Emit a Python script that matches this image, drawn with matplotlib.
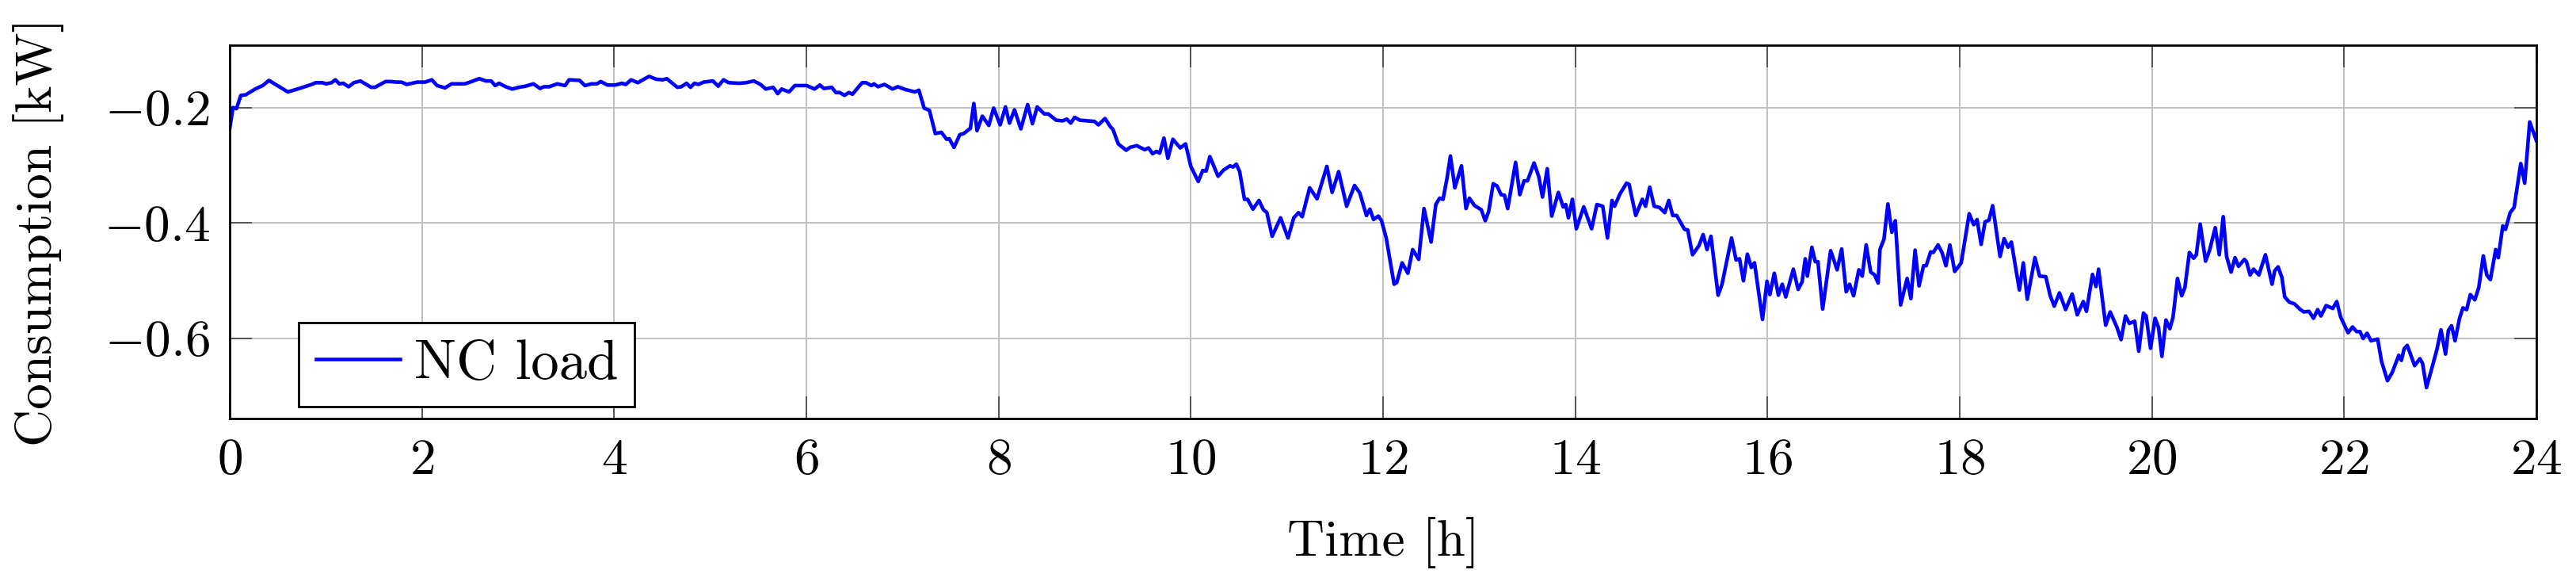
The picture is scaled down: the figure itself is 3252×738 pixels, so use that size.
import matplotlib.pyplot as plt

# Time [h] and NC load [kW]
hours = [
    0.0, 0.033, 0.069, 0.115, 0.165, 0.275, 0.343, 0.407, 0.604, 0.742,
    0.852, 0.893, 0.962, 1.003, 1.058, 1.099, 1.140, 1.181, 1.236, 1.291,
    1.360, 1.470, 1.511, 1.621, 1.676, 1.731, 1.786, 1.841, 1.951, 2.033,
    2.102, 2.157, 2.239, 2.308, 2.445, 2.500, 2.596, 2.665, 2.720, 2.761,
    2.802, 2.871, 2.940, 3.008, 3.077, 3.159, 3.228, 3.269, 3.324, 3.407,
    3.489, 3.530, 3.640, 3.695, 3.764, 3.819, 3.860, 3.929,
    4.011, 4.080, 4.121, 4.176, 4.245, 4.363, 4.437, 4.505, 4.547, 4.657,
    4.698, 4.753, 4.794, 4.835, 4.876, 4.931, 5.027, 5.082, 5.137, 5.192,
    5.302, 5.371, 5.453, 5.522, 5.577, 5.654, 5.701, 5.742, 5.819, 5.879,
    6.003, 6.085, 6.140, 6.181, 6.264, 6.305, 6.346, 6.396, 6.442, 6.478,
    6.580, 6.621, 6.676, 6.703, 6.745, 6.813, 6.896, 6.951, 7.033, 7.129,
    7.170, 7.225, 7.280, 7.341, 7.404, 7.459, 7.486, 7.536, 7.596, 7.637,
    7.706, 7.742, 7.775, 7.830, 7.898, 7.948,
    8.016, 8.071, 8.113, 8.165, 8.231, 8.302, 8.352, 8.401, 8.475, 8.516,
    8.599, 8.668, 8.709, 8.750, 8.791, 8.846, 8.997, 9.038, 9.107, 9.162,
    9.190, 9.245, 9.327, 9.368, 9.437, 9.519, 9.560, 9.602, 9.643, 9.676,
    9.720, 9.761, 9.813, 9.890, 9.945,
    10.0, 10.077, 10.124, 10.159, 10.198, 10.283, 10.343, 10.407, 10.440, 10.473,
    10.508, 10.558, 10.591, 10.646, 10.709, 10.755, 10.791, 10.846, 10.934, 11.011,
    11.071, 11.121, 11.159, 11.236, 11.313, 11.415, 11.470, 11.538, 11.621, 11.703,
    11.758, 11.827, 11.863, 11.901, 11.951, 11.984,
    12.033, 12.115, 12.143, 12.198, 12.258, 12.308, 12.371, 12.426, 12.500, 12.549,
    12.588, 12.624, 12.665, 12.701, 12.747, 12.816, 12.863, 12.898, 12.953, 13.022,
    13.063, 13.099, 13.146, 13.187, 13.228, 13.264, 13.297, 13.379, 13.423, 13.467,
    13.503, 13.571, 13.621, 13.659, 13.709, 13.755, 13.824, 13.874, 13.901, 13.929,
    13.970, 14.011, 14.088, 14.170, 14.225, 14.286, 14.335, 14.382, 14.409, 14.464,
    14.533, 14.560, 14.629, 14.698, 14.731, 14.775, 14.821, 14.876, 14.931, 14.973,
    15.014, 15.055, 15.137, 15.170, 15.220, 15.288, 15.330, 15.371, 15.412, 15.486,
    15.527, 15.626, 15.673, 15.709, 15.750, 15.791, 15.832, 15.865, 15.948, 15.995,
    16.025, 16.071, 16.113, 16.154, 16.190, 16.269, 16.319, 16.360, 16.393, 16.415,
    16.462, 16.497, 16.525, 16.574, 16.657, 16.725, 16.772, 16.819, 16.854, 16.896,
    16.951, 16.986, 17.027, 17.074, 17.115, 17.151, 17.170, 17.212, 17.253, 17.294,
    17.330, 17.385, 17.453, 17.492, 17.536, 17.577, 17.624, 17.651, 17.698, 17.725,
    17.775, 17.816, 17.857, 17.898, 17.948,
    18.016, 18.099, 18.146, 18.181, 18.223, 18.264, 18.305, 18.343, 18.420, 18.462,
    18.503, 18.538, 18.621, 18.662, 18.703, 18.783, 18.832, 18.896, 18.942, 18.984,
    19.038, 19.102, 19.170, 19.223, 19.286, 19.319, 19.382, 19.418, 19.445, 19.519,
    19.566, 19.637, 19.679, 19.725, 19.766, 19.821, 19.863, 19.912, 19.940, 19.986,
    20.033, 20.069, 20.104, 20.146, 20.187, 20.220, 20.266, 20.310, 20.343, 20.390,
    20.434, 20.462, 20.503, 20.558, 20.599, 20.659, 20.701, 20.742, 20.777, 20.824,
    20.865, 20.901, 20.962, 20.984, 21.022, 21.058, 21.113, 21.181, 21.250, 21.277,
    21.313, 21.352, 21.382, 21.429, 21.484, 21.538, 21.580, 21.635, 21.681, 21.725,
    21.758, 21.813, 21.882, 21.923, 21.964,
    22.041, 22.088, 22.129, 22.165, 22.198, 22.239, 22.280, 22.349, 22.390, 22.451,
    22.500, 22.569, 22.596, 22.624, 22.657, 22.734, 22.788, 22.816, 22.857, 22.912,
    22.967, 23.008, 23.055, 23.085, 23.118, 23.154, 23.201, 23.236, 23.275, 23.313,
    23.360, 23.401, 23.448, 23.484, 23.522, 23.577, 23.604, 23.651, 23.679, 23.728,
    23.769, 23.838, 23.879, 23.931, 24.0,
]

nc_load = [
    -0.236, -0.200, -0.202, -0.179, -0.178, -0.167, -0.162, -0.153, -0.173, -0.166,
    -0.160, -0.157, -0.157, -0.159, -0.157, -0.152, -0.159, -0.158, -0.164, -0.157,
    -0.154, -0.165, -0.165, -0.155, -0.155, -0.156, -0.156, -0.160, -0.156, -0.156,
    -0.152, -0.162, -0.166, -0.159, -0.159, -0.156, -0.150, -0.154, -0.154, -0.162,
    -0.158, -0.164, -0.168, -0.165, -0.163, -0.159, -0.167, -0.164, -0.164, -0.159,
    -0.162, -0.152, -0.153, -0.162, -0.159, -0.159, -0.155, -0.161,
    -0.161, -0.158, -0.160, -0.152, -0.157, -0.146, -0.151, -0.152, -0.150, -0.165,
    -0.164, -0.158, -0.165, -0.158, -0.160, -0.156, -0.154, -0.163, -0.152, -0.157,
    -0.158, -0.157, -0.154, -0.160, -0.168, -0.165, -0.176, -0.168, -0.173, -0.162,
    -0.162, -0.168, -0.161, -0.167, -0.165, -0.174, -0.174, -0.179, -0.174, -0.177,
    -0.157, -0.157, -0.162, -0.159, -0.164, -0.160, -0.168, -0.164, -0.169, -0.173,
    -0.170, -0.201, -0.205, -0.245, -0.243, -0.255, -0.254, -0.269, -0.247, -0.245,
    -0.236, -0.193, -0.240, -0.215, -0.231, -0.201,
    -0.230, -0.199, -0.227, -0.204, -0.237, -0.195, -0.228, -0.199, -0.211, -0.211,
    -0.222, -0.223, -0.220, -0.227, -0.217, -0.222, -0.224, -0.230, -0.219, -0.233,
    -0.238, -0.263, -0.274, -0.269, -0.266, -0.273, -0.270, -0.280, -0.276, -0.279,
    -0.253, -0.288, -0.255, -0.270, -0.263,
    -0.302, -0.328, -0.309, -0.310, -0.285, -0.319, -0.308, -0.301, -0.303, -0.298,
    -0.311, -0.359, -0.359, -0.376, -0.361, -0.377, -0.382, -0.423, -0.391, -0.426,
    -0.391, -0.382, -0.389, -0.339, -0.358, -0.302, -0.347, -0.311, -0.371, -0.335,
    -0.348, -0.387, -0.376, -0.394, -0.388, -0.396,
    -0.426, -0.506, -0.503, -0.469, -0.487, -0.446, -0.463, -0.375, -0.433, -0.368,
    -0.357, -0.359, -0.323, -0.284, -0.339, -0.301, -0.375, -0.357, -0.370, -0.377,
    -0.396, -0.380, -0.332, -0.336, -0.351, -0.352, -0.375, -0.295, -0.351, -0.327,
    -0.327, -0.296, -0.320, -0.355, -0.306, -0.388, -0.347, -0.372, -0.368, -0.391,
    -0.359, -0.410, -0.372, -0.410, -0.368, -0.371, -0.426, -0.361, -0.371, -0.350,
    -0.331, -0.333, -0.387, -0.359, -0.371, -0.338, -0.371, -0.373, -0.382, -0.361,
    -0.387, -0.387, -0.411, -0.412, -0.455, -0.439, -0.420, -0.446, -0.423, -0.525,
    -0.506, -0.426, -0.464, -0.462, -0.500, -0.454, -0.477, -0.469, -0.567, -0.501,
    -0.524, -0.487, -0.525, -0.506, -0.528, -0.480, -0.515, -0.502, -0.462, -0.492,
    -0.442, -0.467, -0.467, -0.549, -0.448, -0.481, -0.445, -0.519, -0.506, -0.526,
    -0.481, -0.492, -0.438, -0.485, -0.490, -0.504, -0.446, -0.428, -0.367, -0.416,
    -0.396, -0.542, -0.496, -0.531, -0.447, -0.509, -0.474, -0.474, -0.450, -0.451,
    -0.438, -0.451, -0.474, -0.438, -0.484,
    -0.469, -0.384, -0.403, -0.394, -0.437, -0.398, -0.395, -0.370, -0.458, -0.427,
    -0.442, -0.433, -0.516, -0.469, -0.532, -0.460, -0.492, -0.493, -0.526, -0.544,
    -0.521, -0.550, -0.523, -0.559, -0.536, -0.553, -0.489, -0.510, -0.480, -0.577,
    -0.554, -0.581, -0.602, -0.561, -0.574, -0.570, -0.622, -0.556, -0.561, -0.617,
    -0.565, -0.581, -0.631, -0.568, -0.583, -0.563, -0.496, -0.526, -0.512, -0.451,
    -0.461, -0.455, -0.402, -0.466, -0.448, -0.408, -0.455, -0.389, -0.458, -0.485,
    -0.460, -0.475, -0.463, -0.467, -0.490, -0.480, -0.490, -0.455, -0.506, -0.483,
    -0.476, -0.494, -0.528, -0.537, -0.540, -0.549, -0.554, -0.553, -0.565, -0.550,
    -0.561, -0.543, -0.548, -0.536, -0.563,
    -0.590, -0.580, -0.588, -0.588, -0.600, -0.591, -0.604, -0.601, -0.640, -0.673,
    -0.659, -0.629, -0.638, -0.618, -0.612, -0.647, -0.635, -0.643, -0.685, -0.652,
    -0.618, -0.585, -0.627, -0.586, -0.578, -0.604, -0.565, -0.547, -0.550, -0.524,
    -0.533, -0.512, -0.457, -0.490, -0.498, -0.446, -0.460, -0.405, -0.411, -0.382,
    -0.373, -0.297, -0.331, -0.225, -0.257,
]

x_ticks = list(range(0, 25, 2))
y_ticks = [-0.6, -0.4, -0.2]

plt.rcParams["font.family"] = "cmr10"
plt.rcParams["mathtext.fontset"] = "cm"
plt.rcParams["axes.formatter.use_mathtext"] = True
plt.rcParams["font.size"] = 23.5

fig = plt.figure(figsize=(16.26, 3.69), dpi=200)
ax = fig.add_axes([0.0892, 0.2846, 0.8954, 0.6382])

ax.plot(hours, nc_load, color="#0000ff", linewidth=1.65, label="NC load")

ax.set_xlim(0, 24)
ax.set_ylim(-0.7386, -0.092)
ax.set_xticks(x_ticks)
ax.set_yticks(y_ticks)

ax.grid(True, color="#c0c0c0", linewidth=0.7)
ax.set_axisbelow(True)
ax.tick_params(direction="in", length=10, width=0.7, color="#555555",
               top=True, right=True)
ax.tick_params(axis="x", pad=9)
ax.tick_params(axis="y", pad=9)
for s in ax.spines.values():
    s.set_linewidth(1.0)

ax.set_xlabel("Time [h]", labelpad=15)
ax.set_ylabel("Consumption [kW]", labelpad=18)

leg = ax.legend(loc="lower left", bbox_to_anchor=(0.030, 0.032), borderaxespad=0,
                fancybox=False, edgecolor="black", framealpha=1, fontsize=25.5,
                handlelength=1.5, handletextpad=0.25, borderpad=0.3)
leg.get_frame().set_linewidth(1.0)

plt.savefig("out.png", dpi=200)
plt.close()
